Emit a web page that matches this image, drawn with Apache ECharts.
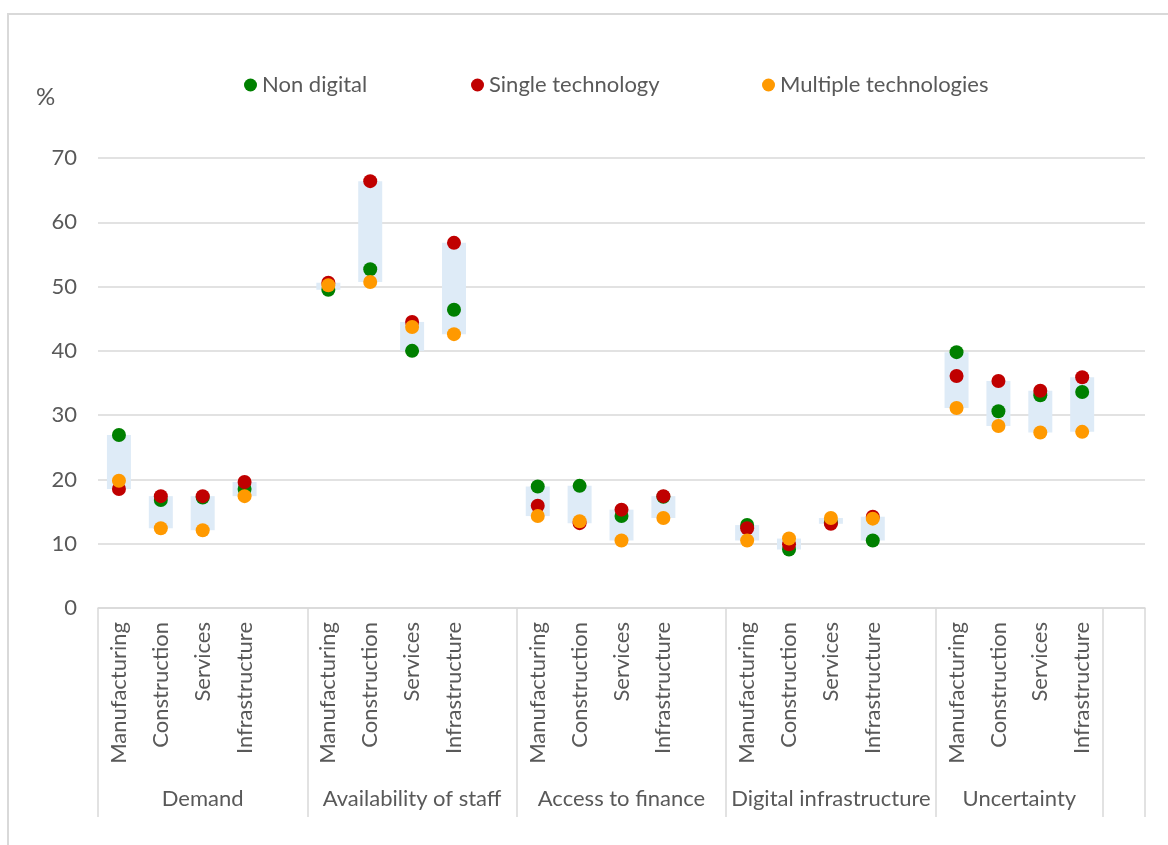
<!DOCTYPE html>
<html>
<head>
<meta charset="utf-8">
<script src="https://cdn.jsdelivr.net/npm/echarts@6/dist/echarts.min.js"></script>
<style>
  html, body { margin: 0; padding: 0; background: #fff; }
  #wrap { position: relative; width: 1168px; height: 845px; overflow: hidden; }
  #frame { position: absolute; left: 7px; top: 13px; width: 1200px; height: 900px;
           border-left: 2px solid #d9d9d9; border-top: 2px solid #d9d9d9; box-sizing: border-box; pointer-events: none; }
  #chart { position: absolute; left: 0; top: 0; width: 1168px; height: 845px; }
</style>
</head>
<body>
<div id="wrap"><div id="frame"></div><div id="chart"></div></div>
<script>
// ---- data ----
const groups = ['Demand', 'Availability of staff', 'Access to finance', 'Digital infrastructure', 'Uncertainty'];
const sectors = ['Manufacturing', 'Construction', 'Services', 'Infrastructure'];
const seriesNames = ['Non digital', 'Single technology', 'Multiple technologies'];
// values per group, in sector order (%)
const nonDigital   = [26.9, 16.8, 17.2, 18.5,  49.5, 52.7, 40.0, 46.4,  18.9, 19.0, 14.3, 17.3,  12.9,  9.1, 13.3, 10.5,  39.8, 30.6, 33.1, 33.6];
const singleTech   = [18.5, 17.4, 17.4, 19.6,  50.6, 66.4, 44.5, 56.8,  15.9, 13.2, 15.3, 17.4,  12.4,  9.9, 13.1, 14.2,  36.1, 35.3, 33.8, 35.9];
const multipleTech = [19.8, 12.4, 12.1, 17.4,  50.2, 50.7, 43.7, 42.6,  14.3, 13.5, 10.5, 14.0,  10.5, 10.8, 14.0, 13.9,  31.1, 28.3, 27.3, 27.4];
const yTicks = [0, 10, 20, 30, 40, 50, 60, 70];

// ---- build slots: each group gets its 4 sectors then one blank slot ----
const cats = [];
const nd = [], st = [], mt = [], base = [], span = [];
groups.forEach((g, gi) => {
  sectors.forEach((s, si) => {
    const k = gi * sectors.length + si;
    cats.push(s);
    nd.push(nonDigital[k]); st.push(singleTech[k]); mt.push(multipleTech[k]);
    const lo = Math.min(nonDigital[k], singleTech[k], multipleTech[k]);
    const hi = Math.max(nonDigital[k], singleTech[k], multipleTech[k]);
    base.push(lo); span.push(+(hi - lo).toFixed(2));
  });
  cats.push('');
  nd.push('-'); st.push('-'); mt.push('-'); base.push('-'); span.push('-');
});
const slotsPerGroup = sectors.length + 1;
// separator ticks: start of each group, plus the final blank slot
const sepIdx = groups.map((g, i) => i * slotsPerGroup).concat([cats.length - 1]);
// group label positions on a 0..N value scale
const groupLabelPos = {};
groups.forEach((g, i) => {
  const start = i * slotsPerGroup;
  const width = (i === groups.length - 1) ? sectors.length : slotsPerGroup;
  groupLabelPos[(start + width / 2).toFixed(1)] = g;
});

const FONT = 'Lato, "Liberation Sans", sans-serif';
const TXT = '#595959';
const GRIDC = '#d9d9d9';
const colors = ['#008000', '#c00000', '#ff9900'];
const legendLeft = [239, 466, 757];

const chart = echarts.init(document.getElementById('chart'), null, { renderer: 'canvas' });
chart.setOption({
  animation: false,
  backgroundColor: 'transparent',
  title: { text: '%', left: 31, top: 80, textStyle: { fontFamily: FONT, fontSize: 24, fontWeight: 'normal', color: TXT } },
  legend: seriesNames.map((n, i) => ({
    data: [n], left: legendLeft[i], top: 69, icon: 'circle', itemWidth: 13, itemHeight: 13, itemGap: 6,
    textStyle: { fontFamily: FONT, fontSize: 22, color: TXT }, selectedMode: false
  })),
  grid: { left: 98, right: 23, top: 158, bottom: 237, containLabel: false },
  xAxis: [
    {
      type: 'category', data: cats, position: 'bottom',
      axisLine: { show: true, lineStyle: { color: GRIDC, width: 1.5 } },
      axisTick: { show: true, length: 209, lineStyle: { color: GRIDC, width: 1.5 },
                  interval: (idx) => sepIdx.includes(idx) },
      axisLabel: { rotate: 90, interval: 0, margin: 14, fontFamily: FONT, fontSize: 22, color: TXT },
      splitLine: { show: false }
    },
    {
      type: 'value', min: 0, max: cats.length, interval: 0.5, position: 'bottom',
      axisLine: { show: false }, axisTick: { show: false }, splitLine: { show: false },
      axisLabel: { show: true, margin: 180, fontFamily: FONT, fontSize: 22, color: TXT, showMinLabel: true, showMaxLabel: true,
                   formatter: (v) => groupLabelPos[v.toFixed(1)] || '' }
    }
  ],
  yAxis: {
    type: 'value', min: yTicks[0], max: yTicks[yTicks.length - 1], interval: 10,
    axisLine: { show: false }, axisTick: { show: false },
    axisLabel: { margin: 21, fontFamily: FONT, fontSize: 22, color: TXT },
    splitLine: { show: true, lineStyle: { color: GRIDC, width: 1.5 } }
  },
  series: [
    { name: 'base', type: 'bar', stack: 'r', data: base, barWidth: 24, itemStyle: { color: 'transparent' }, silent: true },
    { name: 'range', type: 'bar', stack: 'r', data: span, barWidth: 24, itemStyle: { color: '#deebf7' }, silent: true },
    { name: seriesNames[0], type: 'scatter', data: nd, symbol: 'circle', symbolSize: 14, itemStyle: { color: colors[0], opacity: 1 }, z: 3 },
    { name: seriesNames[1], type: 'scatter', data: st, symbol: 'circle', symbolSize: 14, itemStyle: { color: colors[1], opacity: 1 }, z: 4 },
    { name: seriesNames[2], type: 'scatter', data: mt, symbol: 'circle', symbolSize: 14, itemStyle: { color: colors[2], opacity: 1 }, z: 5 }
  ]
});
</script>
</body>
</html>
